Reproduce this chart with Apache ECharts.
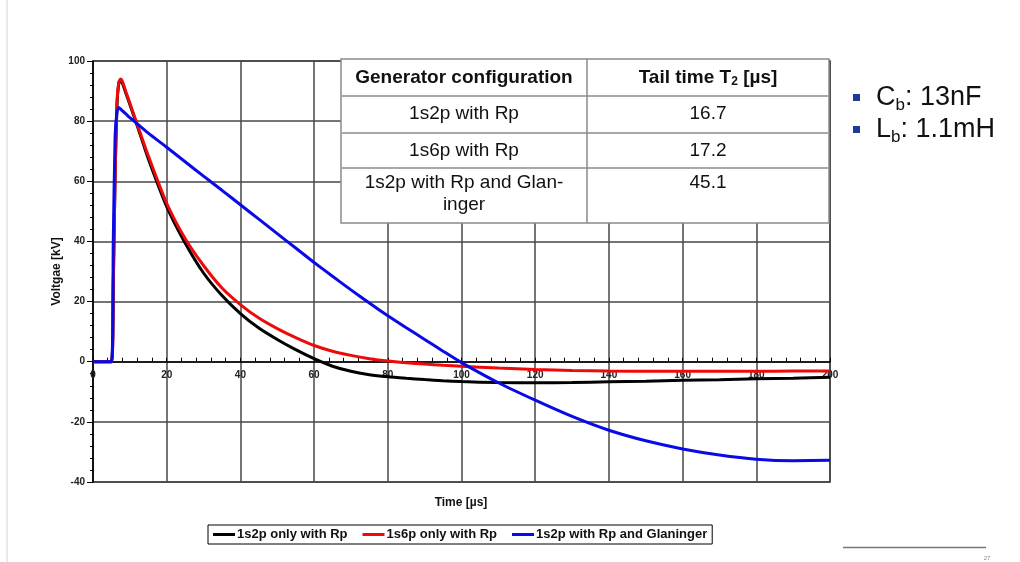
<!DOCTYPE html>
<html><head><meta charset="utf-8">
<script src="https://cdn.jsdelivr.net/npm/echarts@6/dist/echarts.min.js"></script>
<style>html,body{margin:0;padding:0;background:#fff}#c{width:1020px;height:562px}</style>
</head><body><div id="c"></div>
<script>
// ---- data ----
const time  = [0, 5, 5.5, 6, 6.5, 7, 7.5, 8, 9, 10, 12, 15, 20, 25, 30, 35, 40, 45, 50, 55, 60, 65, 70, 75, 80, 85, 90, 95, 100, 110, 120, 130, 140, 150, 160, 170, 180, 190, 200];
const black = [0, 0, 25, 62, 85, 92.5, 93.5, 92.5, 89, 85.5, 78.5, 67.5, 51.6, 39.5, 29.5, 22, 16, 11.2, 7.4, 4.0, 1.0, -1.5, -3.2, -4.3, -5.0, -5.5, -5.95, -6.3, -6.6, -6.95, -7.0, -6.9, -6.7, -6.5, -6.2, -6.0, -5.7, -5.5, -5.2];
const red   = [0, 0, 25, 62, 86, 93, 94, 93.2, 89.5, 86, 79, 68.5, 52.7, 41, 32, 24.5, 19, 14.5, 11, 8.0, 5.4, 3.5, 2.1, 1.0, 0.2, -0.35, -0.8, -1.2, -1.5, -2.1, -2.6, -2.9, -3.1, -3.2, -3.2, -3.2, -3.2, -3.1, -3.1];
const blue  = [0, 0, 40, 75, 83, 84.5, 84, 83.4, 82.3, 81.2, 79.1, 76.0, 71.3, 66.5, 61.7, 57.0, 52.2, 47.4, 42.6, 37.8, 33.0, 28.4, 23.9, 19.5, 15.3, 11.3, 7.4, 3.5, -0.3, -7.0, -12.8, -18.2, -22.8, -26.3, -29, -31, -32.4, -32.9, -32.8];
const seriesNames  = ['1s2p only with Rp', '1s6p only with Rp', '1s2p with Rp and Glaninger'];
const seriesValues = [black, red, blue];
const seriesColors = ['#000000', '#ee0a0a', '#0a0ae8'];
const xTitle = 'Time [µs]';
const yTitle = 'Voltgae [kV]';
const tableHeader  = ['Generator configuration', 'Tail time T{sub|2} [µs]'];
const tableConfigs = ['1s2p with Rp', '1s6p with Rp', '1s2p with Rp and Glan-\ninger'];
const tableTails   = ['16.7', '17.2', '45.1'];
const bullets = [['C', 'b', ': 13nF'], ['L', 'b', ': 1.1mH']];
const pageNumber = '27';

// ---- chart ----
const chart = echarts.init(document.getElementById('c'), null, {renderer: 'canvas'});
const FF = 'Liberation Sans, Arial, sans-serif';
const gridTop = 61, gridBottom = 80, H = 562;
const yMin = -40, yMax = 100;
const plotH = H - gridTop - gridBottom;
const zeroOffset = -(plotH * (0 - yMin) / (yMax - yMin));

// table geometry
const tL = 341, tR = 829, tC = 587, rows = [59, 96, 133, 168, 223];
const tableEls = [];
tableEls.push({type: 'rect', shape: {x: tL, y: rows[0], width: tR - tL, height: rows[4] - rows[0]},
  style: {fill: '#fff', stroke: '#8a8a8a', lineWidth: 1.5}, z: 100});
for (let i = 1; i < rows.length - 1; i++) {
  tableEls.push({type: 'line', shape: {x1: tL, y1: rows[i], x2: tR, y2: rows[i]},
    style: {stroke: '#a8a8a8', lineWidth: 2}, z: 101});
}
tableEls.push({type: 'line', shape: {x1: tC, y1: rows[0], x2: tC, y2: rows[4]},
  style: {stroke: '#8a8a8a', lineWidth: 1.5}, z: 101});
const c1 = (tL + tC) / 2, c2 = (tC + tR) / 2;
tableEls.push({type: 'text', x: c1, y: 78, z: 102, style: {text: tableHeader[0], font: 'bold 19px ' + FF, fill: '#111', align: 'center', verticalAlign: 'middle'}});
tableEls.push({type: 'text', x: c2, y: 78, z: 102, style: {text: tableHeader[1], font: 'bold 19px ' + FF, fill: '#111', align: 'center', verticalAlign: 'middle',
  rich: {sub: {font: 'bold 12px ' + FF, fill: '#111', verticalAlign: 'bottom', lineHeight: 12}}}});
const rowY = [114, 151, 183];
tableConfigs.forEach((t, i) => {
  tableEls.push({type: 'text', x: c1, y: i === 2 ? rowY[i] - 11 : rowY[i], z: 102, style: {text: t, font: '19px ' + FF, fill: '#111', align: 'center', verticalAlign: i === 2 ? 'top' : 'middle', lineHeight: 22}});
  tableEls.push({type: 'text', x: c2, y: rowY[i], z: 102, style: {text: tableTails[i], font: '19px ' + FF, fill: '#111', align: 'center', verticalAlign: 'middle'}});
});

const bulletEls = [];
bullets.forEach((b, i) => {
  const cy = 98 + i * 32;
  bulletEls.push({type: 'rect', shape: {x: 853, y: cy - 4, width: 7, height: 7}, style: {fill: '#1f3a9a'}});
  bulletEls.push({type: 'text', x: 876, y: cy, style: {
    text: '{m|' + b[0] + '}{s|' + b[1] + '}{m|' + b[2] + '}', align: 'left', verticalAlign: 'middle',
    rich: {m: {font: '27px ' + FF, fill: '#111', lineHeight: 32}, s: {font: '17px ' + FF, fill: '#111', verticalAlign: 'bottom', lineHeight: 15}}}});
});

const option = {
  animation: false,
  backgroundColor: '#fff',
  grid: {left: 93, right: 190, top: gridTop, bottom: gridBottom, show: true, borderColor: '#333', borderWidth: 1.5, containLabel: false},
  legend: {
    data: seriesNames, left: 208, top: 525, orient: 'horizontal',
    icon: 'rect', itemWidth: 22, itemHeight: 3, itemGap: 15,
    borderColor: '#000', borderWidth: 1, padding: [3, 5],
    textStyle: {fontFamily: FF, fontWeight: 'bold', fontSize: 13, color: '#111', padding: [0, 0, 0, -3]}
  },
  xAxis: {
    type: 'value', min: 0, max: 200, interval: 20,
    position: 'bottom', offset: zeroOffset,
    axisLine: {onZero: false, lineStyle: {color: '#000', width: 1.5}},
    axisTick: {show: true, inside: true, length: 4, lineStyle: {color: '#000'}},
    minorTick: {show: true, splitNumber: 5, length: 4, lineStyle: {color: '#000'}},
    axisLabel: {fontFamily: FF, fontWeight: 'bold', fontSize: 10, color: '#222', margin: 9},
    splitLine: {show: true, lineStyle: {color: '#474747', width: 1.5}}
  },
  yAxis: {
    type: 'value', min: yMin, max: yMax, interval: 20,
    name: yTitle, nameLocation: 'middle', nameGap: 30, nameRotate: 90, nameMoveOverlap: false,
    nameTextStyle: {fontFamily: FF, fontWeight: 'bold', fontSize: 12, color: '#111'},
    axisLine: {show: true, onZero: false, lineStyle: {color: '#000', width: 1.5}},
    axisTick: {show: true, inside: false, length: 6, lineStyle: {color: '#000'}},
    minorTick: {show: true, splitNumber: 5, length: 3, lineStyle: {color: '#000'}},
    axisLabel: {fontFamily: FF, fontWeight: 'bold', fontSize: 10, color: '#222', margin: 8},
    splitLine: {show: true, lineStyle: {color: '#474747', width: 1.5}}
  },
  series: seriesNames.map((n, k) => ({
    name: n, type: 'line', showSymbol: false, smooth: 0.2,
    data: time.map((t, i) => [t, seriesValues[k][i]]),
    lineStyle: {color: seriesColors[k], width: 3},
    itemStyle: {color: seriesColors[k]},
    z: 2 + k
  })),
  graphic: [
    {type: 'line', shape: {x1: 7, y1: 0, x2: 7, y2: 562}, style: {stroke: '#d4d4d4', lineWidth: 1}},
    {type: 'text', x: 461, y: 503, style: {text: xTitle, font: 'bold 12px ' + FF, fill: '#111', align: 'center', verticalAlign: 'middle'}},
    ...tableEls,
    ...bulletEls,
    {type: 'line', shape: {x1: 843, y1: 547.5, x2: 986, y2: 547.5}, style: {stroke: '#777', lineWidth: 1.5}},
    {type: 'text', x: 987, y: 558, style: {text: pageNumber, font: '6px ' + FF, fill: '#888', align: 'center', verticalAlign: 'middle'}}
  ]
};
chart.setOption(option);
</script></body></html>
